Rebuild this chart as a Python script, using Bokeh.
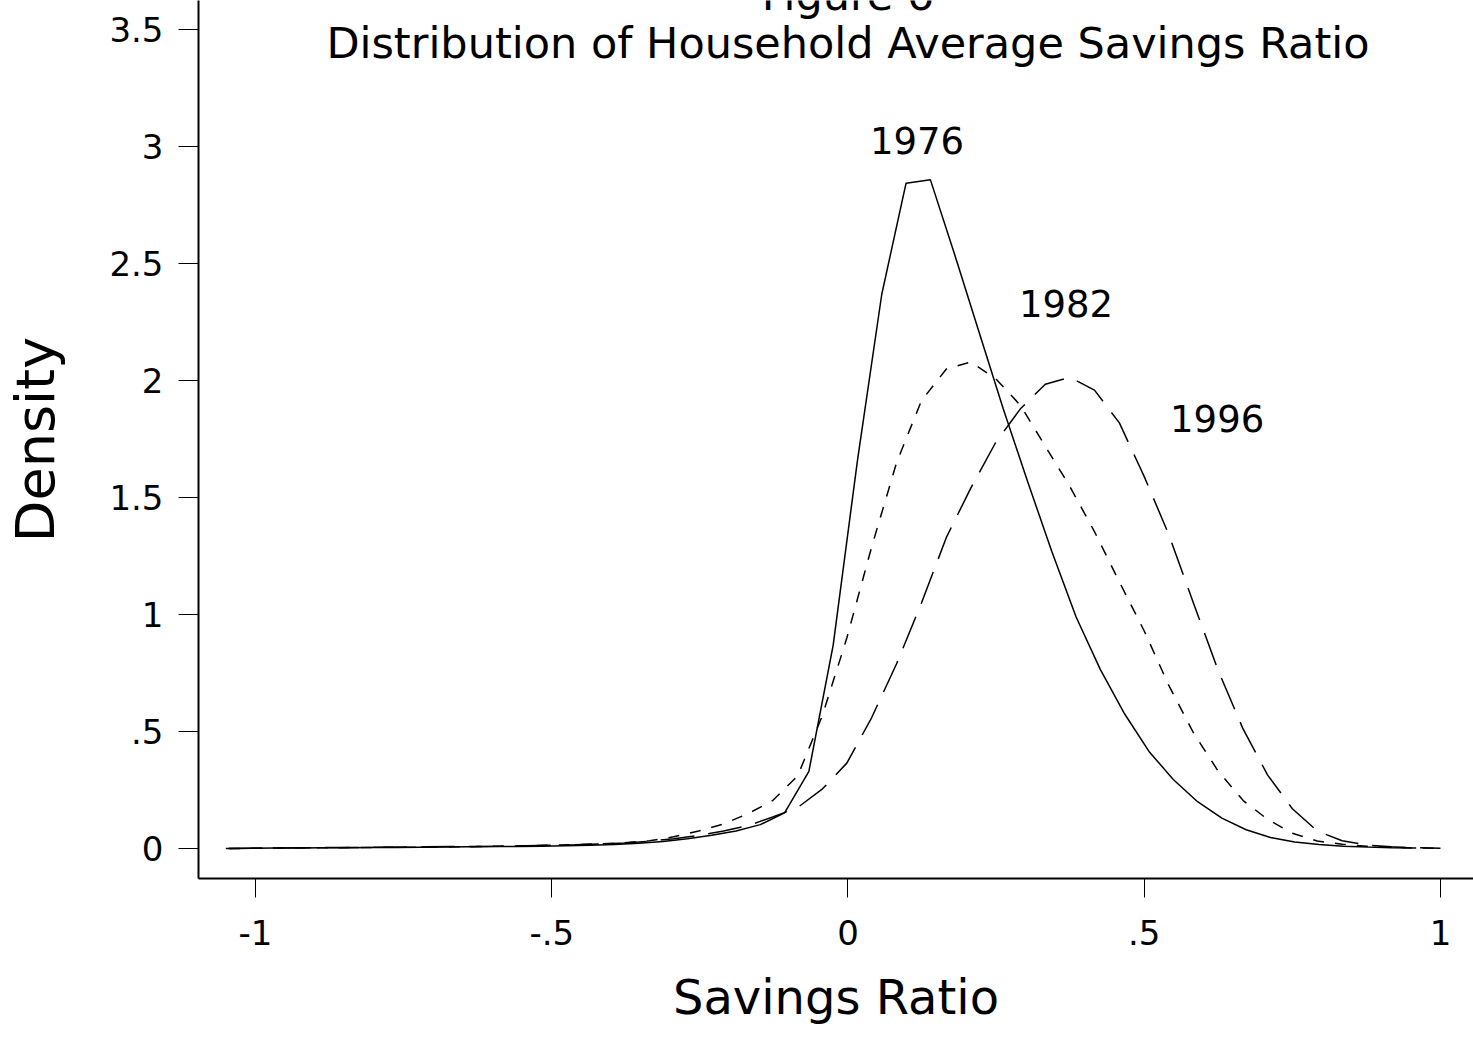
from bokeh.plotting import figure
from bokeh.models import FixedTicker, Range1d
from bokeh.core.properties import value
from bokeh.embed import file_html
from bokeh.resources import INLINE

FONT = "DejaVu Sans"

# Kernel density of the household average savings ratio, evaluated on a grid
x_1976 = [-1.050, -1.009, -0.968, -0.927, -0.886, -0.845, -0.804, -0.763, -0.722, -0.681,
          -0.640, -0.599, -0.558, -0.517, -0.476, -0.435, -0.394, -0.353, -0.312, -0.271,
          -0.230, -0.189, -0.148, -0.107, -0.066, -0.025, 0.016, 0.057, 0.098, 0.139,
          0.180, 0.221, 0.262, 0.303, 0.344, 0.385, 0.426, 0.467, 0.508, 0.549,
          0.590, 0.631, 0.672, 0.713, 0.754, 0.795, 0.836, 0.877, 0.918, 0.959]
d_1976 = [0.000, 0.001, 0.002, 0.002, 0.003, 0.003, 0.004, 0.004, 0.005, 0.006,
          0.007, 0.008, 0.009, 0.010, 0.012, 0.014, 0.017, 0.022, 0.030, 0.042,
          0.057, 0.075, 0.102, 0.152, 0.330, 0.870, 1.660, 2.370, 2.845, 2.860,
          2.540, 2.210, 1.880, 1.570, 1.270, 0.990, 0.765, 0.575, 0.415, 0.295,
          0.200, 0.130, 0.080, 0.047, 0.028, 0.017, 0.010, 0.006, 0.003, 0.002]

x_later = [-1.045, -1.003, -0.962, -0.920, -0.878, -0.836, -0.795, -0.753, -0.711, -0.669,
           -0.628, -0.586, -0.544, -0.502, -0.461, -0.419, -0.377, -0.335, -0.294, -0.252,
           -0.210, -0.168, -0.127, -0.085, -0.043, -0.002, 0.040, 0.082, 0.124, 0.166,
           0.207, 0.249, 0.291, 0.333, 0.374, 0.416, 0.458, 0.500, 0.541, 0.583,
           0.625, 0.667, 0.708, 0.750, 0.792, 0.834, 0.875, 0.917, 0.959, 1.000]
d_1982 = [0.000, 0.001, 0.002, 0.003, 0.003, 0.004, 0.005, 0.005, 0.006, 0.007,
          0.008, 0.010, 0.012, 0.014, 0.016, 0.020, 0.025, 0.033, 0.050, 0.075,
          0.105, 0.150, 0.205, 0.310, 0.570, 0.900, 1.290, 1.650, 1.915, 2.050,
          2.080, 2.010, 1.895, 1.720, 1.550, 1.355, 1.140, 0.930, 0.700, 0.495,
          0.330, 0.205, 0.125, 0.065, 0.032, 0.018, 0.010, 0.005, 0.002, 0.001]
d_1996 = [0.000, 0.001, 0.002, 0.003, 0.004, 0.004, 0.005, 0.006, 0.007, 0.008,
          0.009, 0.010, 0.012, 0.014, 0.016, 0.019, 0.024, 0.031, 0.042, 0.056,
          0.075, 0.098, 0.135, 0.175, 0.255, 0.365, 0.560, 0.790, 1.050, 1.330,
          1.540, 1.735, 1.880, 1.985, 2.015, 1.960, 1.820, 1.590, 1.345, 1.050,
          0.760, 0.510, 0.315, 0.170, 0.075, 0.033, 0.015, 0.007, 0.003, 0.001]

years = ["1976", "1982", "1996"]

x_ticks = [-1, -0.5, 0, 0.5, 1]
x_tick_labels = ["-1", "-.5", "0", ".5", "1"]
y_ticks = [0, 0.5, 1, 1.5, 2, 2.5, 3, 3.5]
y_tick_labels = ["0", ".5", "1", "1.5", "2", "2.5", "3", "3.5"]

title_lines = ["Figure 6", "Distribution of Household Average Savings Ratio"]

p = figure(width=1473, height=1037,
           x_range=Range1d(-1.0962, 1.0557), y_range=Range1d(-0.1283, 3.626),
           output_backend="svg", toolbar_location=None,
           min_border_left=198, min_border_right=0,
           min_border_top=0, min_border_bottom=159)
p.grid.visible = False
p.outline_line_color = None
p.background_fill_color = "white"
p.border_fill_color = "white"

# axes
p.xaxis.ticker = FixedTicker(ticks=x_ticks, minor_ticks=[])
p.xaxis.major_label_overrides = dict(zip(x_ticks, x_tick_labels))
p.yaxis.ticker = FixedTicker(ticks=y_ticks, minor_ticks=[])
p.yaxis.major_label_overrides = dict(zip(y_ticks, y_tick_labels))
p.yaxis.major_label_orientation = "horizontal"

for ax in (p.xaxis[0], p.yaxis[0]):
    ax.axis_line_color = "black"
    ax.axis_line_width = 2
    ax.major_tick_line_color = "black"
    ax.major_tick_line_width = 1
    ax.major_tick_in = 0
    ax.minor_tick_in = 0
    ax.minor_tick_out = 0
    ax.major_label_text_font = FONT
    ax.major_label_text_font_size = "34px"
    ax.major_label_text_color = "black"
    ax.axis_label_text_font = FONT
    ax.axis_label_text_font_style = "normal"
    ax.axis_label_text_color = "black"

p.xaxis.major_tick_out = 19
p.xaxis.major_label_standoff = 22
p.xaxis.axis_label = "Savings Ratio"
p.xaxis.axis_label_text_font_size = "48px"
p.xaxis.axis_label_standoff = 21

p.yaxis.major_tick_out = 20
p.yaxis.major_label_standoff = 15
p.yaxis.axis_label = "Density"
p.yaxis.axis_label_text_font_size = "54px"
p.yaxis.axis_label_standoff = 39

# density curves
p.line(x_1976, d_1976, line_color="black", line_width=1.5)
p.line(x_later, d_1982, line_color="black", line_width=1.5, line_dash="11 11")
p.line(x_later, d_1996, line_color="black", line_width=1.5, line_dash="34 14")

# year labels next to each curve
p.text(x=[0.1165, 0.368, 0.623], y=[3.028, 2.331, 1.839], text=years,
       text_font=value(FONT), text_font_size="37px", text_color="black",
       text_align="center", text_baseline="alphabetic")

# heading inside the plot area (its first line runs off the top edge)
p.text(x=[0, 0], y=[3.648, 3.443], text=title_lines,
       text_font=value(FONT), text_font_size="43px", text_color="black",
       text_align="center", text_baseline="alphabetic")

open("out.html", "w").write(file_html(p, INLINE))
